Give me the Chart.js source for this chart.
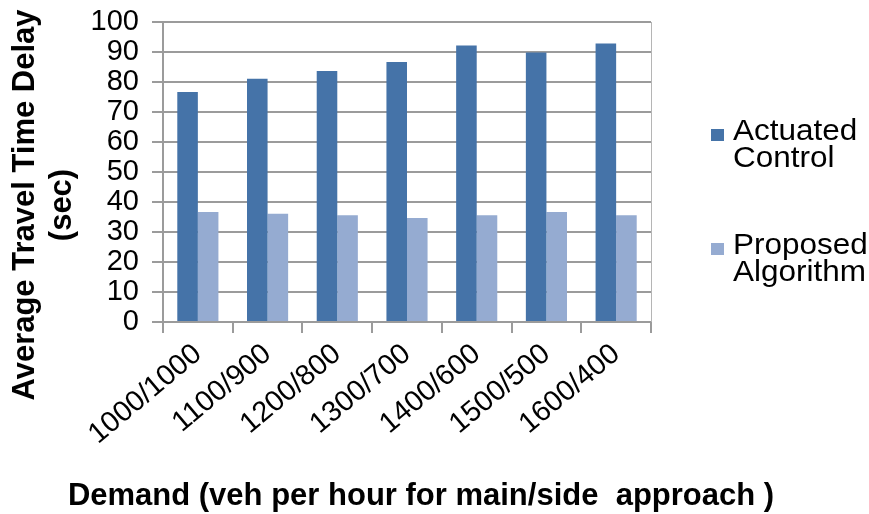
<!DOCTYPE html>
<html>
<head>
<meta charset="utf-8">
<script src="https://cdn.jsdelivr.net/npm/chart.js@4/dist/chart.umd.min.js"></script>
<style>
  html, body { margin: 0; padding: 0; background: #ffffff; }
  #wrap { width: 869px; height: 514px; }
</style>
</head>
<body>
<div id="wrap"><canvas id="c" width="869" height="514"></canvas></div>
<script>
// Demand scenarios (main/side approach, veh per hour)
const categories = ['1000/1000', '1100/900', '1200/800', '1300/700', '1400/600', '1500/500', '1600/400'];
// Average travel time delay in seconds
const actuatedControl = [76.7, 81.1, 83.7, 86.7, 92.2, 89.8, 92.8];
const proposedAlgorithm = [36.7, 36.1, 35.6, 34.7, 35.6, 36.7, 35.6];
const seriesNames = ['Actuated Control', 'Proposed Algorithm'];
const yAxisMin = 0;
const yAxisMax = 100;
const yAxisStep = 10;
const yTitleLines = ['Average Travel Time Delay', '(sec)'];
const xTitle = 'Demand (veh per hour for main/side  approach )';

const FONT = '"Liberation Sans", Arial, sans-serif';
const GRID = '#9b9b9b';

// Axis titles, plot frame and the legend drawn on top of the chart
const decorations = {
  id: 'decorations',
  afterDraw(chart) {
    const ctx = chart.ctx;
    const area = chart.chartArea;
    ctx.save();

    // light right-hand frame line of the plot area
    ctx.strokeStyle = '#b5b5b5';
    ctx.lineWidth = 1;
    ctx.beginPath();
    ctx.moveTo(area.right + 0.5, area.top);
    ctx.lineTo(area.right + 0.5, area.bottom);
    ctx.stroke();

    // y axis title (two lines, rotated)
    ctx.fillStyle = '#000000';
    ctx.font = 'bold 31px ' + FONT;
    ctx.textAlign = 'center';
    ctx.textBaseline = 'alphabetic';
    const yMid = 205;
    [34, 71].forEach((bx, i) => {
      ctx.save();
      ctx.translate(bx, yMid);
      ctx.rotate(-Math.PI / 2);
      ctx.fillText(yTitleLines[i], 0, 0);
      ctx.restore();
    });

    // x axis title
    ctx.fillText(xTitle, 421, 505);

    // legend
    ctx.font = '30px ' + FONT;
    ctx.textAlign = 'left';
    const tops = [129, 243];
    chart.data.datasets.forEach((ds, i) => {
      const t = tops[i];
      ctx.fillStyle = ds.backgroundColor;
      ctx.fillRect(711, t, 13, 12);
      ctx.fillStyle = '#000000';
      const words = ds.label.split(' ');
      words.forEach((w, j) => {
        ctx.save();
        ctx.translate(733, t + 11 + j * 27);
        ctx.scale(1.05, 1);
        ctx.fillText(w, 0, 0);
        ctx.restore();
      });
    });

    ctx.restore();
  }
};

new Chart(document.getElementById('c'), {
  type: 'bar',
  data: {
    labels: categories,
    datasets: [
      { label: seriesNames[0], data: actuatedControl, backgroundColor: '#4573a8' },
      { label: seriesNames[1], data: proposedAlgorithm, backgroundColor: '#95abd1' }
    ]
  },
  options: {
    responsive: false,
    animation: false,
    devicePixelRatio: 1,
    layout: { padding: { left: 0, right: 218, top: 22, bottom: 0 } },
    datasets: { bar: { categoryPercentage: 0.59, barPercentage: 1.0 } },
    plugins: {
      legend: { display: false },
      tooltip: { enabled: false }
    },
    scales: {
      x: {
        offset: true,
        grid: { display: true, drawOnChartArea: false, drawTicks: true, tickLength: 11, color: GRID, lineWidth: 2, offset: true },
        border: { display: true, color: GRID, width: 2 },
        ticks: { color: '#000000', font: { family: FONT, size: 29 }, maxRotation: 40, minRotation: 40, padding: 4, autoSkip: false },
        afterFit(scale) { scale.height = 192; scale.paddingLeft = 0; scale.paddingRight = 0; }
      },
      y: {
        min: yAxisMin,
        max: yAxisMax,
        grid: { color: GRID, lineWidth: 2, tickLength: 11 },
        border: { display: true, color: GRID, width: 2 },
        ticks: { stepSize: yAxisStep, color: '#000000', font: { family: FONT, size: 29 }, padding: 13, autoSkip: false },
        afterFit(scale) { scale.width = 163; scale.paddingTop = 0; scale.paddingBottom = 0; }
      }
    }
  },
  plugins: [decorations]
});
</script>
</body>
</html>
